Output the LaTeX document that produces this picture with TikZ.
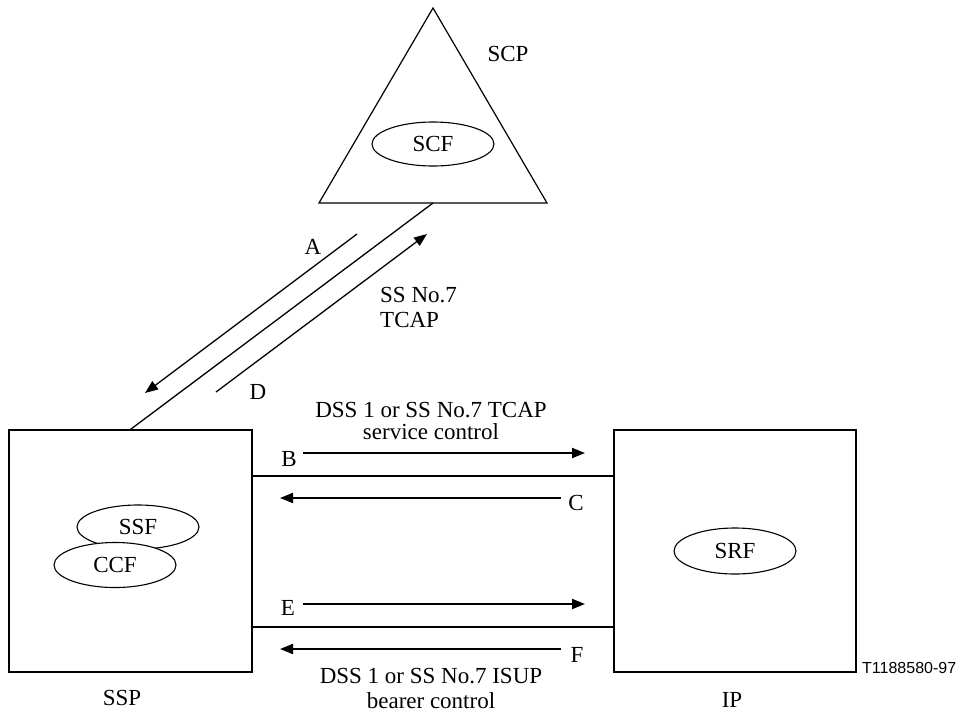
\documentclass[tikz,border=0pt]{standalone}
\usepackage{fontspec}
\setmainfont{Liberation Serif}
\newfontfamily\labelsans{Liberation Sans}
\usetikzlibrary{arrows.meta,shapes.geometric}
\begin{document}
\begin{tikzpicture}[x=1pt,y=-1pt,
  every node/.style={font=\fontsize{23}{25}\selectfont, inner sep=0pt},
  boxnode/.style={draw, line width=1.2pt, rectangle},
  funcell/.style={draw, line width=1.1pt, ellipse, minimum width=122pt, minimum height=44pt, fill=white},
  link/.style={line width=2pt},
  diag/.style={line width=1.3pt},
  sig/.style={line width=2pt, -{Triangle[length=13pt,width=10pt]}},
  diagsig/.style={line width=1.3pt, -{Triangle[length=13pt,width=10pt]}},
  lbl/.style={}
]
\useasboundingbox (0,0) rectangle (958,713);

% SCP triangle
\coordinate (apex) at (433,8);
\coordinate (bl) at (319,203);
\coordinate (br) at (547,203);
\coordinate (scpfoot) at (433,203);
\draw[line width=1.2pt, line join=miter] (apex) -- (br) -- (bl) -- cycle;
\node[funcell] (scf) at (433,144) {SCF};
\node[lbl] (scp) at (508,54) {SCP};

% SSP and IP boxes
\node[boxnode, minimum width=243pt, minimum height=242pt] (ssp) at (130.5,551) {};
\node[boxnode, minimum width=242pt, minimum height=242pt] (ip) at (735,551) {};
\node[funcell] (ssf) at (138,527) {SSF};
\node[funcell, minimum height=45pt] (ccf) at (115,565) {CCF};
\node[funcell, minimum height=46pt] (srf) at (735,551) {SRF};
\node[lbl] (ssplbl) at (122,698) {SSP};
\node[lbl] (iplbl) at (732,700) {IP};
\node[anchor=base west, font=\labelsans\fontsize{16}{18}\selectfont] (ref) at (862,673) {T1188580-97};

% SCP-SSP link
\draw[diag] (scpfoot) -- (ssp.north);
\coordinate (a1) at (357,234);
\coordinate (a2) at (145,393);
\coordinate (d1) at (216,392);
\coordinate (d2) at (427,234);
\draw[diagsig] (a1) -- (a2);
\draw[diagsig] (d1) -- (d2);
\node[lbl] (la) at (313,247) {A};
\node[lbl] (ld) at (258,392) {D};
\node[lbl, anchor=west, align=left, font=\fontsize{23}{25}\selectfont] (tcap) at (380,307) {SS No.7\\TCAP};

% Service control link
\coordinate (bcl) at (252,476);
\coordinate (bcr) at (614,476);
\draw[link] (bcl) -- (bcr);
\coordinate (b1) at (303,453);
\coordinate (b2) at (585,453);
\coordinate (c1) at (561,498);
\coordinate (c2) at (280,498);
\draw[sig] (b1) -- (b2);
\draw[sig] (c1) -- (c2);
\node[lbl] (lb) at (289,459) {B};
\node[lbl] (lc) at (576,503) {C};
\node[lbl, align=center, font=\fontsize{23}{22}\selectfont] (svc) at (431,421) {DSS 1 or SS No.7 TCAP\\service control};

% Bearer control link
\coordinate (efl) at (252,627);
\coordinate (efr) at (614,627);
\draw[link] (efl) -- (efr);
\coordinate (e1) at (303,604);
\coordinate (e2) at (585,604);
\coordinate (f1) at (561,649);
\coordinate (f2) at (280,649);
\draw[sig] (e1) -- (e2);
\draw[sig] (f1) -- (f2);
\node[lbl] (le) at (288,608) {E};
\node[lbl] (lf) at (577,655) {F};
\node[lbl, align=center, font=\fontsize{23}{25}\selectfont] (brr) at (431,688) {DSS 1 or SS No.7 ISUP\\bearer control};
\end{tikzpicture}
\end{document}
